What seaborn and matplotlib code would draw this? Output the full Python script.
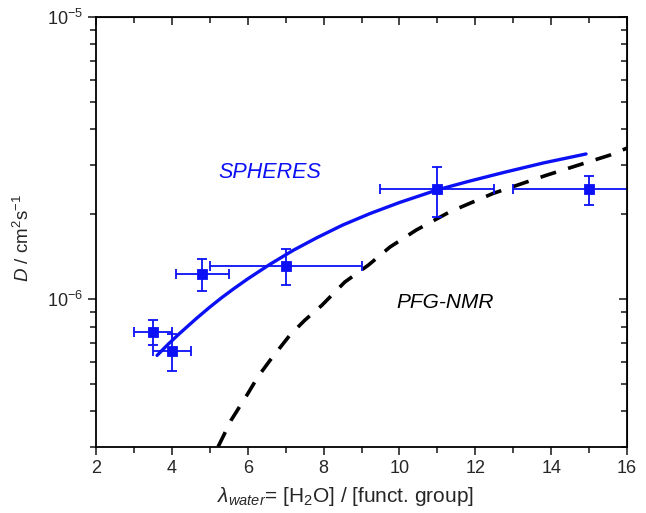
import numpy as np
import pandas as pd
import matplotlib
matplotlib.use("Agg")
import matplotlib.pyplot as plt
import seaborn as sns
from matplotlib.ticker import LogLocator, NullFormatter, MultipleLocator

# measured points (SPHERES)
lam = [3.5, 4.0, 4.8, 7.0, 11.0, 15.0]
D = [7.66e-7, 6.55e-7, 1.23e-6, 1.31e-6, 2.45e-6, 2.45e-6]
lam_err = [0.5, 0.5, 0.7, 2.0, 1.5, 2.0]
D_err = [0.8e-7, 1.0e-7, 0.16e-6, 0.19e-6, 0.5e-6, 0.29e-6]

# fitted curve through the SPHERES data
fit_lam = [3.61, 3.9, 4.2, 4.65, 5.0, 5.3, 5.62, 6.0, 6.59, 7.2, 7.82, 8.5,
           9.22, 10.0, 11.0, 11.8, 12.74, 13.8, 14.92]
fit_D = [6.32e-7, 6.92e-7, 7.55e-7, 8.55e-7, 9.37e-7, 1.009e-6, 1.086e-6,
         1.18e-6, 1.33e-6, 1.49e-6, 1.65e-6, 1.83e-6, 2.01e-6, 2.20e-6,
         2.44e-6, 2.61e-6, 2.81e-6, 3.04e-6, 3.27e-6]

# PFG-NMR curve
nmr_lam = [5.22, 5.56, 6.0, 6.27, 6.6, 7.11, 7.5, 7.95, 8.56, 9.18, 9.75,
           10.45, 11.33, 12.47, 13.88, 15.55, 16.0]
nmr_D = [3.0e-7, 3.72e-7, 4.62e-7, 5.31e-7, 6.1e-7, 7.45e-7, 8.41e-7, 9.5e-7,
         1.15e-6, 1.32e-6, 1.53e-6, 1.76e-6, 2.04e-6, 2.37e-6, 2.75e-6,
         3.24e-6, 3.43e-6]

sns.set_style("ticks")
plt.rcParams['font.family'] = ['Liberation Sans', 'DejaVu Sans']
plt.rcParams['mathtext.fontset'] = 'custom'
plt.rcParams['mathtext.rm'] = 'Liberation Sans'
plt.rcParams['mathtext.it'] = 'Liberation Sans:italic'
plt.rcParams['mathtext.bf'] = 'Liberation Sans:bold'

fig = plt.figure(figsize=(6.46, 5.13), dpi=100)
ax = fig.add_axes([0.1486, 0.1292, 0.8220, 0.8377])

blue = '#0c10f5'

sns.lineplot(x=nmr_lam, y=nmr_D, ax=ax, color='black', lw=2.6,
             linestyle=(0, (4.5, 3.5)), sort=False)
sns.lineplot(x=fit_lam, y=fit_D, ax=ax, color=blue, lw=2.4, sort=False)

ax.errorbar(lam, D, xerr=lam_err, yerr=D_err, fmt='none', ecolor=blue,
            elinewidth=1.3, capsize=3.5, capthick=1.3)
sns.scatterplot(x=lam, y=D, ax=ax, marker='s', s=55, color=blue,
                edgecolor=blue, zorder=5)

ax.set_yscale('log')
ax.set_xlim(2, 16)
ax.set_ylim(3e-7, 1e-5)

ax.xaxis.set_major_locator(MultipleLocator(2))
ax.xaxis.set_minor_locator(MultipleLocator(1))
ax.yaxis.set_major_locator(LogLocator(base=10, numticks=10))
ax.yaxis.set_minor_locator(LogLocator(base=10, subs=np.arange(2, 10), numticks=10))
ax.yaxis.set_minor_formatter(NullFormatter())

for s in ax.spines.values():
    s.set_linewidth(1.3)
    s.set_color('black')
    s.set_visible(True)

ax.tick_params(which='both', direction='out', width=1.2, labelsize=13,
               top=False, right=False)
ax.tick_params(which='major', length=6)
ax.tick_params(which='minor', length=4)

# mirrored inward ticks on top and right
ax_t = ax.secondary_xaxis('top')
ax_t.xaxis.set_major_locator(MultipleLocator(2))
ax_t.xaxis.set_minor_locator(MultipleLocator(1))
ax_t.tick_params(which='both', direction='in', width=1.2, labeltop=False)
ax_t.tick_params(which='major', length=6)
ax_t.tick_params(which='minor', length=4)
ax_r = ax.secondary_yaxis('right')
ax_r.yaxis.set_major_locator(LogLocator(base=10, numticks=10))
ax_r.yaxis.set_minor_locator(LogLocator(base=10, subs=np.arange(2, 10), numticks=10))
ax_r.yaxis.set_minor_formatter(NullFormatter())
ax_r.tick_params(which='both', direction='in', width=1.2, labelright=False)
ax_r.tick_params(which='major', length=6)
ax_r.tick_params(which='minor', length=4)

ax.set_xlabel(r'$\lambda_{\mathit{water}}$= [H$_2$O] / [funct. group]',
              fontsize=15)
ax.xaxis.set_label_coords(0.47, -0.088)
ax.set_ylabel(r'$\mathit{D}$ / cm$^2$s$^{-1}$', fontsize=13.5)
ax.yaxis.set_label_coords(-0.118, 0.486)

ax.text(6.59, 2.81e-6, 'SPHERES', color=blue, fontsize=15.5, style='italic',
        ha='center', va='center')
ax.text(11.2, 9.73e-7, 'PFG-NMR', color='black', fontsize=15, style='italic',
        ha='center', va='center')

fig.savefig('out.png', dpi=100)
